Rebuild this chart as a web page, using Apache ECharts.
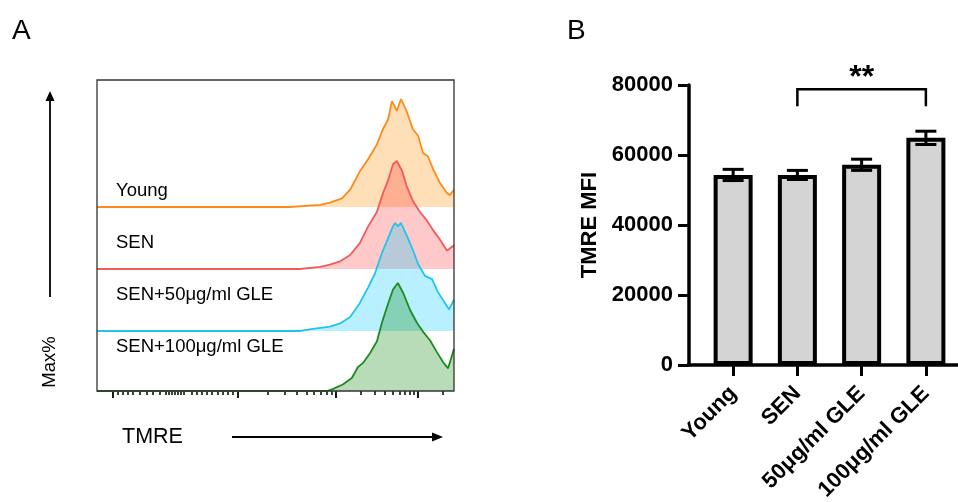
<!DOCTYPE html>
<html><head><meta charset="utf-8">
<script src="https://cdn.jsdelivr.net/npm/echarts@6/dist/echarts.min.js"></script>
<style>html,body{margin:0;padding:0;background:#fff}#c{width:958px;height:502px}</style>
</head><body><div id="c"></div>
<script>
// ---------- Panel A: TMRE histograms (x in transformed channel units 0-1024, y in % of max) ----------
const histNames = ['Young', 'SEN', 'SEN+50μg/ml GLE', 'SEN+100μg/ml GLE'];
const youngHist = [[0,0],[553,0],[555,1],[640,2],[668,4],[703,8],[726,16],[754,33],[777,44],[803,58],[820,72],[835,81],[846,98],[860,89],[872,100],[889,88],[906,72],[921,66],[935,50],[949,47],[964,35],[984,22],[1004,13],[1012,11],[1024,16]];
const senHist = [[0,0],[582,0],[584,1],[640,2],[668,4],[697,7],[726,13],[754,24],[777,39],[803,53],[820,70],[835,82],[849,97],[860,100],[875,91],[889,76],[906,63],[926,53],[946,45],[964,36],[984,27],[1004,17],[1012,19],[1024,22]];
const gle50Hist = [[0,0],[582,0],[584,1],[619,2],[668,4],[697,7],[726,13],[754,26],[777,40],[797,53],[817,72],[835,86],[849,97],[855,100],[863,97],[872,100],[889,88],[906,75],[921,62],[941,51],[961,48],[978,36],[998,26],[1010,20],[1024,29]];
const gle100Hist = [[0,0],[660,0],[677,2],[705,6],[731,12],[748,22],[763,26],[783,35],[803,46],[817,63],[832,78],[849,94],[863,100],[878,91],[898,75],[918,63],[935,55],[955,47],[975,36],[992,27],[1007,21],[1024,39]];
const majorTicks = [46, 404, 686, 921];
const minorTicks = [60,75,89,103,123,143,161,181,198,206,215,224,232,241,250,272,287,301,315,330,347,361,376,390,490,539,573,602,622,642,660,674,757,797,826,849,869,883,898,909,992];

// ---------- Panel B: TMRE MFI bars ----------
const groups = ['Young', 'SEN', '50μg/ml GLE', '100μg/ml GLE'];
const mfiMean = [54300, 54300, 57200, 64900];
const mfiErr = [1600, 1300, 1600, 1900];
const sigPairs = [[1, 3, 78800, '**']];

const FONT = 'Liberation Sans, Arial, Helvetica, sans-serif';
const histData = [youngHist, senHist, gle50Hist, gle100Hist];
const lineColors = ['#ff8a1c', '#f05b5b', '#22c4ef', '#208a20'];
const fillColors = ['rgba(255,140,0,0.4)', 'rgba(255,0,0,0.3)', 'rgba(0,200,255,0.4)', 'rgba(0,128,0,0.4)'];
const baselines = [207, 269, 331, 391];
const labelY = [190.5, 243, 294.5, 347];
const H = 108;

const grids = [
  {left: 97, top: 80, width: 357, height: 311, show: true, borderColor: '#333', borderWidth: 1.3, backgroundColor: 'transparent', z: 3, outerBoundsMode: 'none', containLabel: false}
];
baselines.forEach(b => grids.push({left: 97, top: b - H, width: 357, height: H, show: false, outerBoundsMode: 'none', containLabel: false}));
grids.push({left: 689, top: 85, right: 0, height: 280, show: false, outerBoundsMode: 'none', containLabel: false});
grids.push({left: 701, top: 85, right: 0, height: 280, show: false, outerBoundsMode: 'none', containLabel: false});

const hidden = {show: false};
const xAxes = [
  {gridIndex: 0, type: 'value', min: 0, max: 1024, position: 'bottom', axisLine: {show: false}, splitLine: hidden, axisLabel: hidden,
   axisTick: {show: true, inside: false, length: 7, customValues: majorTicks, lineStyle: {color: '#000', width: 1.8}}},
  {gridIndex: 0, type: 'value', min: 0, max: 1024, position: 'bottom', axisLine: {show: false}, splitLine: hidden, axisLabel: hidden,
   axisTick: {show: true, inside: false, length: 4, customValues: minorTicks, lineStyle: {color: '#000', width: 1.5}}}
];
const yAxes = [{gridIndex: 0, type: 'value', show: false, min: 0, max: 1}];
for (let i = 0; i < 4; i++) {
  xAxes.push({gridIndex: i + 1, type: 'value', min: 0, max: 1024, show: false});
  yAxes.push({gridIndex: i + 1, type: 'value', min: 0, max: 100, show: false});
}
// Panel B frame axes
xAxes.push({gridIndex: 5, type: 'value', min: 0, max: 1, axisLine: {show: true, lineStyle: {color: '#000', width: 3.5, cap: 'square'}}, axisTick: hidden, axisLabel: hidden, splitLine: hidden});
yAxes.push({gridIndex: 5, type: 'value', min: 0, max: 80000, interval: 20000,
  axisLine: {show: true, lineStyle: {color: '#000', width: 3.5}},
  axisTick: {show: true, length: 11, lineStyle: {color: '#000', width: 3}},
  axisLabel: {margin: 16, color: '#000', fontFamily: FONT, fontWeight: 'bold', fontSize: 22, formatter: v => String(v)},
  splitLine: hidden,
  name: 'TMRE MFI', nameLocation: 'middle', nameGap: 88,
  nameTextStyle: {color: '#000', fontFamily: FONT, fontWeight: 'bold', fontSize: 22}});
// Panel B bar axes
xAxes.push({gridIndex: 6, type: 'category', data: groups, axisLine: {show: false},
  axisTick: {show: true, alignWithLabel: true, length: 11, lineStyle: {color: '#000', width: 3}},
  axisLabel: {rotate: 45, margin: 25, color: '#000', fontFamily: FONT, fontWeight: 'bold', fontSize: 22, interval: 0},
  splitLine: hidden});
yAxes.push({gridIndex: 6, type: 'value', min: 0, max: 80000, show: false});

const series = [];
histData.forEach((d, i) => {
  series.push({
    type: 'line', name: histNames[i], xAxisIndex: i + 2, yAxisIndex: i + 1, data: d,
    symbol: 'none', smooth: false, clip: false,
    lineStyle: {color: lineColors[i], width: 1.8},
    areaStyle: {color: fillColors[i], origin: 'start'},
    z: 2 + i * 0.01
  });
});
series.push({
  type: 'bar', xAxisIndex: 7, yAxisIndex: 6, data: mfiMean, barWidth: 39,
  itemStyle: {color: '#d4d4d4', borderColor: '#000', borderWidth: 4}
});
series.push({
  type: 'custom', xAxisIndex: 7, yAxisIndex: 6, z: 5,
  data: groups.map((g, i) => [i, mfiMean[i], mfiErr[i]]),
  renderItem: function (params, api) {
    const x = api.value(0), m = api.value(1), e = api.value(2);
    const t = api.coord([x, m + e]), b = api.coord([x, m - e]);
    const hw = 10.5, st = {stroke: '#000', lineWidth: 3};
    return {type: 'group', children: [
      {type: 'line', shape: {x1: t[0], y1: t[1], x2: b[0], y2: b[1]}, style: st},
      {type: 'line', shape: {x1: t[0] - hw, y1: t[1], x2: t[0] + hw, y2: t[1]}, style: st},
      {type: 'line', shape: {x1: b[0] - hw, y1: b[1], x2: b[0] + hw, y2: b[1]}, style: st}
    ]};
  }
});
series.push({
  type: 'custom', xAxisIndex: 7, yAxisIndex: 6, z: 5,
  data: sigPairs.map(p => [p[0], p[1], p[2]]),
  renderItem: function (params, api) {
    const p = sigPairs[params.dataIndex];
    const a = api.coord([p[0], p[2]]), c = api.coord([p[1], p[2]]);
    const leg = 17;
    return {type: 'group', children: [
      {type: 'polyline', shape: {points: [[a[0], a[1] + leg], [a[0], a[1]], [c[0], c[1]], [c[0], c[1] + leg]]},
       style: {stroke: '#000', lineWidth: 2.5, fill: null}},
      {type: 'text', x: (a[0] + c[0]) / 2, y: a[1] - 11,
       style: {text: p[3], fill: '#000', font: 'bold 32px ' + FONT, align: 'center', verticalAlign: 'middle'}}
    ]};
  }
});

const graphic = [
  {type: 'text', x: 12, y: 31, style: {text: 'A', fill: '#000', font: '28px ' + FONT, verticalAlign: 'middle'}},
  {type: 'text', x: 567, y: 31, style: {text: 'B', fill: '#000', font: '28px ' + FONT, verticalAlign: 'middle'}},
  {type: 'line', shape: {x1: 50, y1: 297, x2: 50, y2: 98}, style: {stroke: '#000', lineWidth: 1.8}},
  {type: 'polygon', shape: {points: [[50, 91], [45.5, 101], [54.5, 101]]}, style: {fill: '#000'}},
  {type: 'text', x: 50, y: 362, rotation: Math.PI / 2, style: {text: 'Max%', fill: '#000', font: '18.5px ' + FONT, align: 'center', verticalAlign: 'middle'}},
  {type: 'text', x: 122, y: 437, style: {text: 'TMRE', fill: '#000', font: '21.5px ' + FONT, align: 'left', verticalAlign: 'middle'}},
  {type: 'line', shape: {x1: 232, y1: 437, x2: 435, y2: 437}, style: {stroke: '#000', lineWidth: 1.8}},
  {type: 'polygon', shape: {points: [[443, 437], [432, 432.5], [432, 441.5]]}, style: {fill: '#000'}}
];
histNames.forEach((n, i) => graphic.push({type: 'text', x: 116, y: labelY[i], z: 10,
  style: {text: n, fill: '#000', font: '18.5px ' + FONT, align: 'left', verticalAlign: 'middle'}}));

const chart = echarts.init(document.getElementById('c'), null, {renderer: 'canvas'});
chart.setOption({
  animation: false,
  backgroundColor: '#fff',
  grid: grids, xAxis: xAxes, yAxis: yAxes, series: series, graphic: graphic
});
</script></body></html>
